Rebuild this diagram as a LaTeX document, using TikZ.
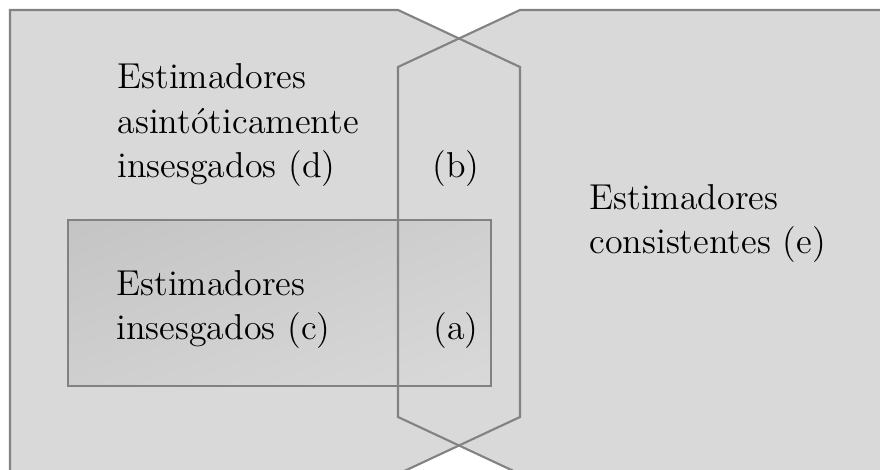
\documentclass[tikz,border=0pt]{standalone}
\usepackage{tikz}
\usetikzlibrary{shadings}
\definecolor{fillgray}{HTML}{D9D9D9}
\definecolor{linegray}{HTML}{828282}
\definecolor{rectdark}{HTML}{C4C4C4}
\definecolor{rectmid}{HTML}{CFCFCF}
\definecolor{rectlight}{HTML}{D9D9D9}
\begin{document}
\begin{tikzpicture}[x=0.4pt,y=-0.4pt,
  outline/.style={draw=linegray,line width=0.85pt,line join=miter},
  lbl/.style={anchor=base west,inner sep=0pt,align=left,font=\fontsize{14.4}{17.8}\selectfont}]
\useasboundingbox (0,0) rectangle (880,470);
\begin{scope}
\clip (0,0) rectangle (880,470);
% filled areas
\path[fill=fillgray] (10,10) -- (398,10) -- (520,67) -- (520,417) -- (398,474) -- (10,474) -- cycle;
\path[fill=fillgray] (895,10) -- (520,10) -- (398,67) -- (398,417) -- (520,474) -- (895,474) -- cycle;
% inner rectangle (unbiased estimators)
\shade[upper left=rectdark, upper right=rectmid, lower left=rectmid, lower right=rectlight] (68,220) rectangle (491,386);
\draw[outline] (68,220) rectangle (491,386);
% outlines
\draw[outline] (10,474) -- (10,10) -- (398,10) -- (520,67) -- (520,417) -- (398,474) -- cycle;
\draw[outline] (895,10) -- (520,10) -- (398,67) -- (398,417) -- (520,474) -- (895,474);
\end{scope}
% labels (anchor = baseline of the last line)
\node[lbl] (d) at (117,178) {Estimadores\\asintóticamente\\insesgados (d)};
\node[lbl] (b) at (432,178) {(b)};
\node[lbl] (e) at (589,254) {Estimadores\\consistentes (e)};
\node[lbl] (c) at (116,340) {Estimadores\\insesgados (c)};
\node[lbl] (a) at (433,340) {(a)};
\end{tikzpicture}
\end{document}
